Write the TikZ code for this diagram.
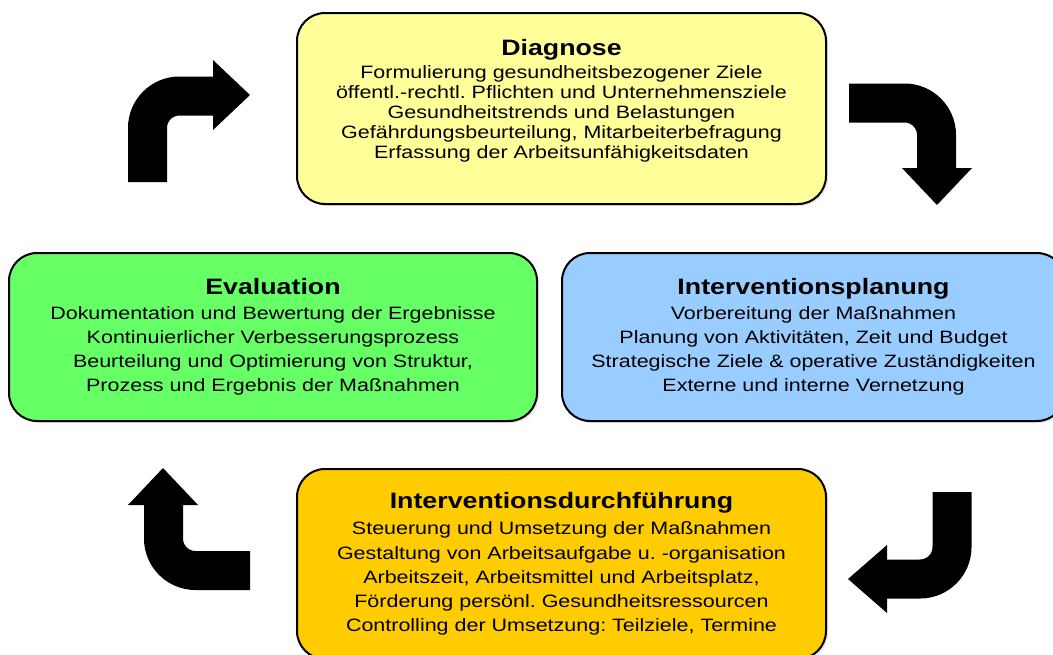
\documentclass[tikz,border=0pt]{standalone}
\usepackage{fontspec}
\setmainfont{Liberation Sans}[FakeStretch=1.2]
\frenchspacing
\usetikzlibrary{shadows}
\definecolor{diagfill}{RGB}{255,255,153}
\definecolor{evalfill}{RGB}{102,255,102}
\definecolor{planfill}{RGB}{153,204,255}
\definecolor{durchfill}{RGB}{255,204,0}
\tikzset{phasebox/.style = {draw, line width=2pt, rounded corners=28pt, align=center,
                            inner sep=0, font=\fontsize{17.9}{24.2}\selectfont,
                            drop shadow={shadow xshift=2pt, shadow yshift=-2pt, fill=gray!40}}}
\tikzset{bentshaft/.style = {line width=39pt, rounded corners=32pt}}
\newcommand{\phasetitle}[1]{{\bfseries\fontsize{22.3}{24}\selectfont #1}}

\begin{document}
\begin{tikzpicture}[x=1pt, y=-1pt]
    \useasboundingbox (0,0) rectangle (1053,654);
    \clip (0,0) rectangle (1053,654);

    \node [phasebox, fill=diagfill, minimum width=529pt, minimum height=191pt,
           font=\fontsize{17.9}{19.8}\selectfont, text depth=20pt] (diag) at (561.5,108.5)
        {\phasetitle{Diagnose}\\[4pt]
         Formulierung gesundheitsbezogener Ziele\\
         öffentl.-rechtl. Pflichten und Unternehmensziele\\
         Gesundheitstrends und Belastungen\\
         Gefährdungsbeurteilung, Mitarbeiterbefragung\\
         Erfassung der Arbeitsunfähigkeitsdaten};
    \node [phasebox, fill=planfill, minimum width=503pt, minimum height=168pt] (plan) at (813.5,337)
        {\phasetitle{Interventionsplanung}\\
         Vorbereitung der Maßnahmen\\
         Planung von Aktivitäten, Zeit und Budget\\
         Strategische Ziele \& operative Zuständigkeiten\\
         Externe und interne Vernetzung};
    \node [phasebox, fill=durchfill, minimum width=529pt, minimum height=190pt] (durch) at (561.5,564)
        {\phasetitle{Interventionsdurchführung}\\[2pt]
         Steuerung und Umsetzung der Maßnahmen\\
         Gestaltung von Arbeitsaufgabe u. -organisation\\
         Arbeitszeit, Arbeitsmittel und Arbeitsplatz,\\
         Förderung persönl. Gesundheitsressourcen\\
         Controlling der Umsetzung: Teilziele, Termine};
    \node [phasebox, fill=evalfill, minimum width=528pt, minimum height=168pt] (eval) at (273,337)
        {\phasetitle{Evaluation}\\
         Dokumentation und Bewertung der Ergebnisse\\
         Kontinuierlicher Verbesserungsprozess\\
         Beurteilung und Optimierung von Struktur,\\
         Prozess und Ergebnis der Maßnahmen};

    % bent arrows between the phases
    \draw [bentshaft] (147.5,182) -- (147.5,96) -- (214,96);
    \fill (213,60) -- (250,95) -- (213,130) -- cycle;
    \draw [bentshaft] (849,103) -- (936.5,103) -- (936.5,169);
    \fill (902,168) -- (937,205) -- (972,168) -- cycle;
    \draw [bentshaft] (952,492) -- (952,579) -- (886,579);
    \fill (887,545) -- (848,579) -- (887,613) -- cycle;
    \draw [bentshaft] (250,570.5) -- (163.5,570.5) -- (163.5,504);
    \fill (128,505) -- (163,468) -- (198,505) -- cycle;
\end{tikzpicture}
\end{document}
